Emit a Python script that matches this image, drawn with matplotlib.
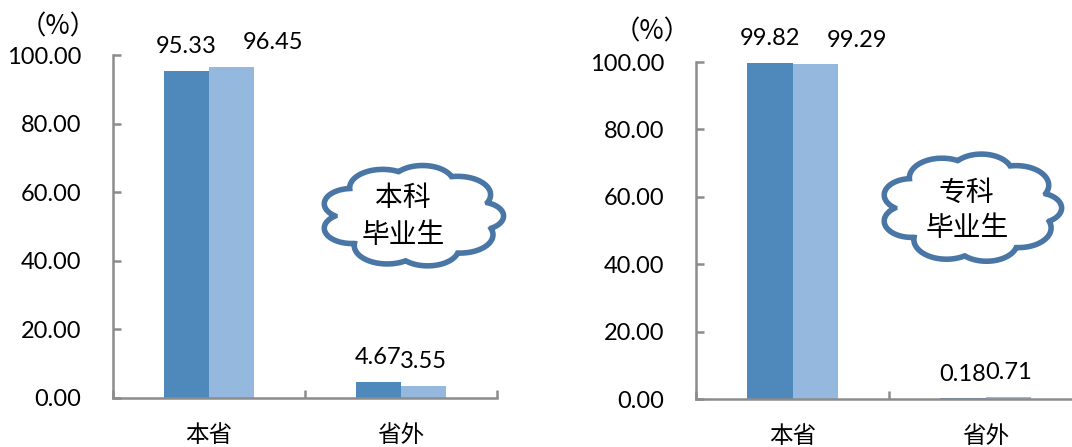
import matplotlib
matplotlib.use("Agg")
import matplotlib.pyplot as plt
import numpy as np

plt.rcParams['font.family'] = ['Lato', 'Noto Sans CJK SC', 'DejaVu Sans']

categories = ['本省', '省外']
bk_2013 = [95.33, 4.67]
bk_2014 = [96.45, 3.55]
zk_2013 = [99.82, 0.18]
zk_2014 = [99.29, 0.71]
y_ticks = [0, 20, 40, 60, 80, 100]

DARK = '#4f88bb'
LIGHT = '#95b8de'
AXIS = '#8c8c8c'
CLOUD = '#4a76a6'

fig = plt.figure(figsize=(10.72, 4.47), dpi=100)


def panel(rect, s1, s2):
    ax = fig.add_axes(rect)
    x = np.arange(len(categories))
    w = 0.235
    b1 = ax.bar(x - w / 2, s1, w, color=DARK)
    b2 = ax.bar(x + w / 2, s2, w, color=LIGHT)
    for k, (bars, vals) in enumerate(((b1, s1), (b2, s2))):
        for i, (b, v) in enumerate(zip(bars, vals)):
            # tall pair: second label pushed right so they don't collide
            dx = 30 if (k == 1 and v > 50) else 0
            ax.annotate(f'{v:.2f}', (b.get_x() + b.get_width() / 2, v),
                        xytext=(dx, 10), textcoords='offset points',
                        ha='center', va='bottom', fontsize=17,
                        annotation_clip=False)
    ax.set_xlim(-0.5, 1.5)
    ax.set_ylim(0, 100)
    ax.set_yticks(y_ticks)
    ax.set_yticklabels([f'{t:.2f}' for t in y_ticks])
    ax.set_xticks(x)
    ax.set_xticklabels(categories)
    ax.set_xticks([-0.5, 0.5, 1.5], minor=True)
    ax.tick_params(axis='x', which='major', length=0, pad=19, labelsize=17)
    ax.tick_params(axis='x', which='minor', direction='in', length=6,
                   width=1.8, color=AXIS)
    ax.tick_params(axis='y', direction='in', length=6, width=1.8,
                   color=AXIS, pad=23, labelsize=17)
    for s in ('top', 'right'):
        ax.spines[s].set_visible(False)
    for s in ('left', 'bottom'):
        ax.spines[s].set_color(AXIS)
        ax.spines[s].set_linewidth(1.8)
    return ax


panel([113 / 1072, 1 - 398 / 447, 384 / 1072, 343 / 447], bk_2013, bk_2014)
panel([696 / 1072, 1 - 399 / 447, 386 / 1072, 337 / 447], zk_2013, zk_2014)

over = fig.add_axes([0, 0, 1, 1])
over.set_xlim(0, 1072)
over.set_ylim(447, 0)
over.axis('off')
over.patch.set_alpha(0)

# cloud bumps around a ring: (angle in degrees, ring radius, bump radius)
bumps = [(0, 0.72, 0.28), (35, 0.64, 0.36), (75, 0.66, 0.34),
         (115, 0.64, 0.36), (160, 0.7, 0.3), (200, 0.7, 0.3),
         (240, 0.64, 0.36), (280, 0.66, 0.34), (320, 0.65, 0.36)]


def cloud(cx, cy, w, h):
    th = np.linspace(0, 2 * np.pi, 1440)
    d = np.stack([np.cos(th), np.sin(th)], axis=1)
    r = np.full(th.shape, 0.3)
    for ang, ring, br in bumps:
        bx = ring * np.cos(np.radians(ang))
        by = ring * np.sin(np.radians(ang))
        dc = d @ np.array([bx, by])
        disc = dc ** 2 - (bx ** 2 + by ** 2) + br ** 2
        t = np.where(disc >= 0, dc + np.sqrt(np.clip(disc, 0, None)), 0)
        r = np.maximum(r, t)
    r = r / r.max()
    xs = cx + r * np.cos(th) * w / 2
    ys = cy + r * np.sin(th) * h / 2
    over.fill(xs, ys, facecolor='white', edgecolor=CLOUD, linewidth=4,
              zorder=5)


cloud(412, 216, 185, 103)
over.text(403, 198, '本科', ha='center', va='center', fontsize=20, zorder=6)
over.text(403, 235, '毕业生', ha='center', va='center', fontsize=20, zorder=6)
cloud(971, 208, 183, 110)
over.text(966, 193, '专科', ha='center', va='center', fontsize=20, zorder=6)
over.text(967, 228, '毕业生', ha='center', va='center', fontsize=20, zorder=6)

over.text(58, 27, '（%）', ha='center', va='center', fontsize=19,
          family='Noto Sans CJK SC')
over.text(652, 32, '（%）', ha='center', va='center', fontsize=19,
          family='Noto Sans CJK SC')

fig.savefig('out.png', dpi=100)
